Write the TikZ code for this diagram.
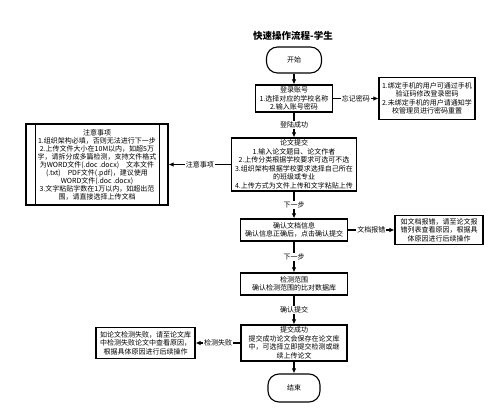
\documentclass[tikz,border=0pt]{standalone}
\usepackage{fontspec}
\setmainfont{Noto Sans CJK SC}
\usetikzlibrary{arrows.meta}
\begin{document}
\begin{tikzpicture}[x=1pt,y=-1pt,
		box/.style={draw,line width=1.1pt,align=center,inner sep=1pt,font=\fontsize{7}{8.5}\selectfont},
		term/.style={box,rounded corners=11pt},
		lbl/.style={fill=white,inner sep=1pt,font=\fontsize{7}{8.5}\selectfont},
		flow/.style={line width=1.1pt,-{Latex[length=5pt,width=4.5pt]}}]
		\useasboundingbox (0,0) rectangle (500,419);
		\node (title) at (293,36) {\fontsize{9.5}{11}\selectfont\bfseries 快速操作流程-学生};
		\node[term,minimum width=55,minimum height=26] (start) at (294,60) {开始};
		\node[box,minimum width=77,minimum height=27] (login) at (294,98.5) {登录账号\\1.选择对应的学校名称\\2.输入账号密码};
		\node[box,minimum width=96,minimum height=42] (forgot) at (427,98.5) {1.绑定手机的用户可通过手机\\验证码修改登录密码\\2.未绑定手机的用户请通知学\\校管理员进行密码重置};
		\node[box,minimum width=125,minimum height=53] (submit) at (294,164.5) {论文提交\\1.输入论文题目、论文作者\\2.上传分类根据学校要求可选可不选\\3.组织架构根据学校要求选择自己所在\\的班级或专业\\4.上传方式为文件上传和文字粘贴上传};
		\node[box,minimum width=142,minimum height=81,font=\fontsize{7}{8}\selectfont] (notes) at (97,164.5) {注意事项\\1.组织架构必填，否则无法进行下一步\\2.上传文件大小在10M以内，如超5万\\字，请拆分成多篇检测，支持文件格式\\为WORD文件(.doc .docx)\quad 文本文件\\(.txt)\quad PDF文件(.pdf)，建议使用\\WORD文件(.doc .docx)\\3.文字粘贴字数在1万以内，如超出范\\围，请直接选择上传文档};
		\foreach \s/\a in {10/west,-9/east}
			\draw[line width=1.1pt] ([xshift=\s]notes.north \a) -- ([xshift=\s]notes.south \a);
		\node[box,minimum width=107,minimum height=22] (confirm) at (294,230) {确认文档信息\\确认信息正确后，点击确认提交};
		\node[box,minimum width=88,minimum height=29] (typo) at (439,230) {如文档报错，请至论文报\\错列表查看原因，根据具\\体原因进行后续操作};
		\node[box,minimum width=107,minimum height=22] (range) at (294,284) {检测范围\\确认检测范围的比对数据库};
		\node[box,minimum width=106,minimum height=36] (success) at (294,343) {提交成功\\提交成功论文会保存在论文库\\中，可选择立即提交检测或继\\续上传论文};
		\node[box,minimum width=99,minimum height=31] (fail) at (145.5,343) {如论文检测失败，请至论文库\\中检测失败论文中查看原因，\\根据具体原因进行后续操作};
		\node[term,minimum width=52,minimum height=28] (end) at (294,388) {结束};

		\draw[flow] (start) -- (login);
		\draw[flow] (login) -- node[lbl] {忘记密码} (forgot);
		\draw[flow] (login) -- node[lbl] {登陆成功} (submit);
		\draw[flow] (submit) -- node[lbl] {注意事项} (notes);
		\draw[flow] (submit) -- node[lbl] {下一步} (confirm);
		\draw[flow] (confirm) -- node[lbl] {文档报错} (typo);
		\draw[flow] (confirm) -- node[lbl] {下一步} (range);
		\draw[flow] (range) -- node[lbl] {确认提交} (success);
		\draw[flow] (success) -- node[lbl] {检测失败} (fail);
		\draw[flow] (success) -- (end);
	\end{tikzpicture}
\end{document}
